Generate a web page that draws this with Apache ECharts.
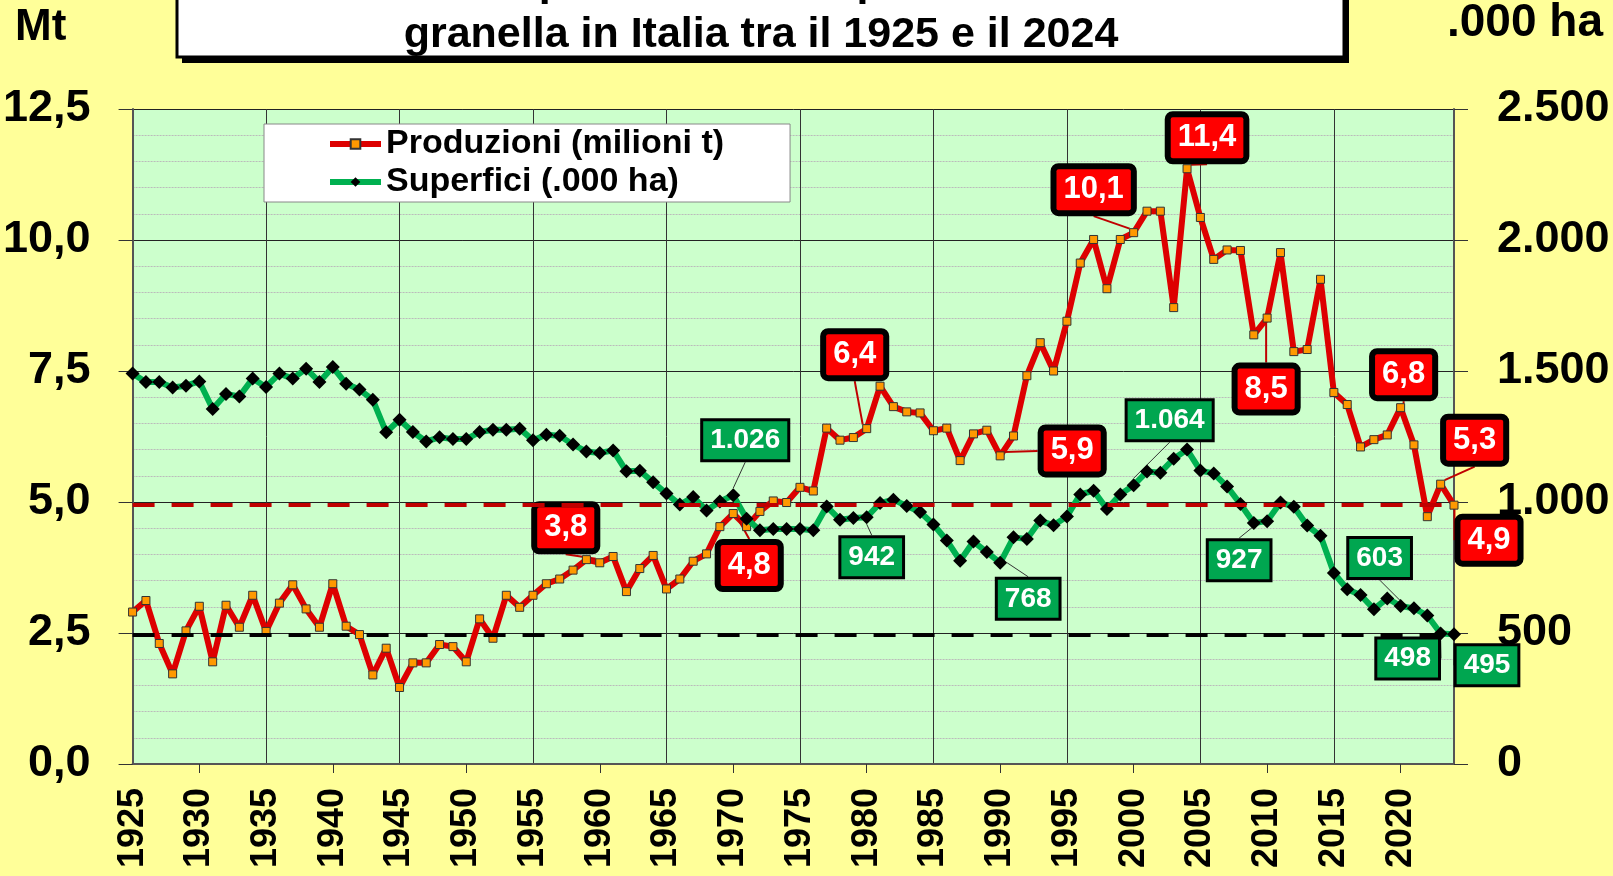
<!DOCTYPE html>
<html>
<head>
    <meta charset="utf-8">
    <title>Mais da granella in Italia 1925-2024</title>
    <style>
        html, body { margin: 0; padding: 0; background: #FFFF99; }
        #main { width: 1613px; height: 876px; }
    </style>
</head>
<body>
    <div id="main"></div>
    <script src="https://cdn.jsdelivr.net/npm/echarts@6/dist/echarts.min.js"></script>
    <script>
        // anni 1925-2024
        var years = [];
        for (var y = 1925; y <= 2024; y++) {
            years.push(String(y));
        }

        // produzioni, milioni di t
        var produzioni = [
            2.90, 3.12, 2.30, 1.72, 2.54, 3.01, 1.95, 3.03, 2.61, 3.22,
            2.53, 3.07, 3.42, 2.96, 2.61, 3.44, 2.63, 2.47, 1.70, 2.21,
            1.46, 1.93, 1.93, 2.28, 2.24, 1.95, 2.77, 2.40, 3.22, 2.99,
            3.22, 3.44, 3.53, 3.70, 3.90, 3.84, 3.96, 3.29, 3.73, 3.98,
            3.34, 3.53, 3.87, 4.01, 4.53, 4.78, 4.53, 4.82, 5.02, 4.99,
            5.28, 5.21, 6.41, 6.18, 6.23, 6.40, 7.21, 6.82, 6.72, 6.70,
            6.36, 6.41, 5.79, 6.30, 6.37, 5.88, 6.26, 7.41, 8.04, 7.50,
            8.45, 9.56, 10.01, 9.07, 10.01, 10.14, 10.55, 10.55, 8.71, 11.36,
            10.43, 9.63, 9.81, 9.80, 8.19, 8.51, 9.76, 7.87, 7.91, 9.25,
            7.09, 6.86, 6.05, 6.19, 6.28, 6.80, 6.09, 4.72, 5.34, 4.94
        ];

        // superfici, .000 ha
        var superfici = [
            1490, 1458, 1458, 1437, 1444, 1460, 1355, 1412, 1403, 1471,
            1439, 1490, 1471, 1509, 1458, 1515, 1451, 1429, 1390, 1266,
            1314, 1267, 1231, 1247, 1240, 1240, 1267, 1276, 1276, 1280,
            1236, 1257, 1253, 1219, 1193, 1187, 1197, 1117, 1119, 1075,
            1032, 990, 1019, 968, 1002, 1026, 936, 892, 897, 897,
            897, 892, 983, 932, 939, 942, 996, 1009, 985, 962,
            914, 853, 776, 849, 809, 768, 865, 859, 929, 911,
            945, 1029, 1043, 973, 1029, 1064, 1116, 1112, 1165, 1200,
            1120, 1109, 1059, 992, 920, 927, 998, 982, 910, 871,
            729, 667, 645, 591, 632, 603, 594, 567, 498, 495
        ];

        var prodLabelYears = ['1960', '1970', '1980', '1990', '2000', '2004', '2010', '2020', '2023', '2024'];
        var supLabelYears = ['1970', '1980', '1990', '2000', '2010', '2020', '2023', '2024'];

        // spostamento delle etichette rispetto al punto (px)
        var prodOffsets = {
            '1960': [-34, -35], '1970': [16, 52], '1980': [-12, -74], '1990': [72, -5],
            '2000': [-40, -43], '2004': [20, -31], '2010': [-1, 71], '2020': [3, -33],
            '2023': [34, -44], '2024': [35, 35]
        };
        var supOffsets = {
            '1970': [12, -55], '1980': [5, 40], '1990': [28, 36], '2000': [36, -65],
            '2010': [-28, 39], '2020': [-21, -48], '2023': [-33, 25], '2024': [33, 31]
        };

        var FONT = '"Liberation Sans", Arial, sans-serif';

        function fmtMt(v) {
            return v.toFixed(1).replace('.', ',');
        }

        function fmtHa(v) {
            v = Math.round(v);
            if (v >= 1000) {
                var r = String(v % 1000);
                while (r.length < 3) r = '0' + r;
                return Math.floor(v / 1000) + '.' + r;
            }
            return String(v);
        }

        function buildData(values, labelYears) {
            return values.map(function (v, i) {
                if (labelYears.indexOf(years[i]) < 0) return v;
                return { value: v, label: { show: true } };
            });
        }

        function makeLayout(offsets) {
            return function (p) {
                var off = offsets[years[p.dataIndex]];
                if (!off) return {};
                return {
                    x: p.rect.x + p.rect.width / 2 + off[0],
                    y: p.rect.y + p.rect.height / 2 + off[1],
                    align: 'center',
                    verticalAlign: 'middle'
                };
            };
        }

        var refProd = produzioni[produzioni.length - 1];
        var refSup = superfici[superfici.length - 1];

        var myChart = echarts.init(document.getElementById('main'));
        var option = {
            backgroundColor: '#FFFF99',
            animation: false,
            textStyle: { fontFamily: FONT },
            graphic: [
                { type: 'rect', z: 10, shape: { x: 182, y: -58, width: 1167, height: 121 }, style: { fill: '#000' } },
                { type: 'rect', z: 11, shape: { x: 177, y: -64, width: 1167, height: 121 }, style: { fill: '#fff', stroke: '#000', lineWidth: 3 } },
                {
                    type: 'text', z: 12, x: 761, y: -17,
                    style: { text: 'Andamento produzioni e superfici del mais da', font: 'bold 43px ' + FONT, fill: '#000', align: 'center', verticalAlign: 'middle' }
                },
                {
                    type: 'text', z: 12, x: 761, y: 35,
                    style: { text: 'granella in Italia tra il 1925 e il 2024', font: 'bold 43px ' + FONT, fill: '#000', align: 'center', verticalAlign: 'middle' }
                },
                {
                    type: 'text', x: 15, y: 28,
                    style: { text: 'Mt', font: 'bold 44px ' + FONT, fill: '#000', align: 'left', verticalAlign: 'middle' }
                },
                {
                    type: 'text', x: 1603, y: 23,
                    style: { text: '.000 ha', font: 'bold 46px ' + FONT, fill: '#000', align: 'right', verticalAlign: 'middle' }
                }
            ],
            grid: {
                left: 132,
                right: 159,
                top: 109,
                bottom: 112,
                show: true,
                backgroundColor: '#CCFFCC',
                borderWidth: 0
            },
            legend: {
                left: 264,
                top: 124,
                orient: 'vertical',
                backgroundColor: '#fff',
                borderColor: '#888',
                borderWidth: 1,
                borderRadius: 0,
                padding: [3, 66, 3, 63],
                itemGap: 4,
                itemWidth: 51,
                itemHeight: 12,
                lineStyle: { width: 6 },
                textStyle: { fontSize: 34, fontWeight: 'bold', color: '#000', fontFamily: FONT },
                data: ['Produzioni (milioni t)', 'Superfici (.000 ha)']
            },
            xAxis: {
                type: 'category',
                data: years,
                boundaryGap: false,
                axisLine: { lineStyle: { color: '#555', width: 2 } },
                axisTick: {
                    show: true,
                    length: 9,
                    interval: function (i) { return i % 10 === 5; },
                    lineStyle: { color: '#333', width: 1 }
                },
                axisLabel: {
                    interval: function (i) { return i % 5 === 0; },
                    rotate: 90,
                    margin: 24,
                    fontSize: 36,
                    fontWeight: 'bold',
                    color: '#000',
                    fontFamily: FONT
                },
                splitLine: {
                    show: true,
                    interval: function (i) { return i % 10 === 0; },
                    lineStyle: { color: '#333', width: 1 }
                }
            },
            yAxis: [
                {
                    type: 'value',
                    min: 0,
                    max: 12.5,
                    interval: 2.5,
                    position: 'left',
                    axisLine: { show: true, lineStyle: { color: '#555', width: 2 } },
                    axisTick: { show: true, length: 14, inside: false, lineStyle: { color: '#333' } },
                    axisLabel: {
                        margin: 42,
                        fontSize: 45,
                        fontWeight: 'bold',
                        color: '#000',
                        fontFamily: FONT,
                        formatter: function (v) { return fmtMt(v); }
                    },
                    splitLine: { show: true, lineStyle: { color: '#222', width: 1 } },
                    minorTick: { show: false, splitNumber: 5 },
                    minorSplitLine: { show: true, lineStyle: { color: '#BBBBBB', width: 1, type: [2, 1] } }
                },
                {
                    type: 'value',
                    min: 0,
                    max: 2500,
                    interval: 500,
                    position: 'right',
                    axisLine: { show: true, lineStyle: { color: '#555', width: 2 } },
                    axisTick: { show: true, length: 14, inside: false, lineStyle: { color: '#333' } },
                    axisLabel: {
                        margin: 43,
                        align: 'left',
                        fontSize: 45,
                        fontWeight: 'bold',
                        color: '#000',
                        fontFamily: FONT,
                        formatter: function (v) { return fmtHa(v); }
                    },
                    splitLine: { show: false }
                }
            ],
            series: [
                {
                    name: 'Produzioni (milioni t)',
                    type: 'line',
                    yAxisIndex: 0,
                    data: buildData(produzioni, prodLabelYears),
                    symbol: 'rect',
                    symbolSize: 8,
                    showAllSymbol: true,
                    itemStyle: { color: '#FF9900', borderColor: '#333', borderWidth: 1 },
                    lineStyle: { color: '#DD0000', width: 6 },
                    emphasis: { disabled: true },
                    z: 3,
                    label: {
                        show: false,
                        formatter: function (p) { return fmtMt(p.value); },
                        color: '#fff',
                        fontSize: 31,
                        fontWeight: 'bold',
                        fontFamily: FONT,
                        lineHeight: 33,
                        backgroundColor: '#FF0000',
                        borderColor: '#000',
                        borderWidth: 6,
                        borderRadius: 2,
                        padding: [5, 7, 3, 7]
                    },
                    labelLine: { show: true, lineStyle: { color: '#C00000', width: 2 } },
                    labelLayout: makeLayout(prodOffsets),
                    markLine: {
                        silent: true,
                        symbol: ['none', 'none'],
                        label: { show: false },
                        lineStyle: { color: '#C00000', width: 4, type: [22, 17] },
                        data: [{ yAxis: refProd }]
                    }
                },
                {
                    name: 'Superfici (.000 ha)',
                    type: 'line',
                    yAxisIndex: 1,
                    data: buildData(superfici, supLabelYears),
                    symbol: 'diamond',
                    symbolSize: 14,
                    showAllSymbol: true,
                    itemStyle: { color: '#000' },
                    lineStyle: { color: '#00B050', width: 6 },
                    emphasis: { disabled: true },
                    z: 4,
                    label: {
                        show: false,
                        formatter: function (p) { return fmtHa(p.value); },
                        color: '#fff',
                        fontSize: 28,
                        fontWeight: 'bold',
                        fontFamily: FONT,
                        lineHeight: 30,
                        backgroundColor: '#00A650',
                        borderColor: '#000',
                        borderWidth: 3,
                        padding: [5, 7, 3, 7]
                    },
                    labelLine: { show: true, lineStyle: { color: '#333', width: 1 } },
                    labelLayout: makeLayout(supOffsets),
                    markLine: {
                        silent: true,
                        symbol: ['none', 'none'],
                        label: { show: false },
                        lineStyle: { color: '#000', width: 4, type: [22, 17] },
                        data: [{ yAxis: refSup }]
                    }
                }
            ]
        };

        myChart.setOption(option);
    </script>
</body>
</html>
